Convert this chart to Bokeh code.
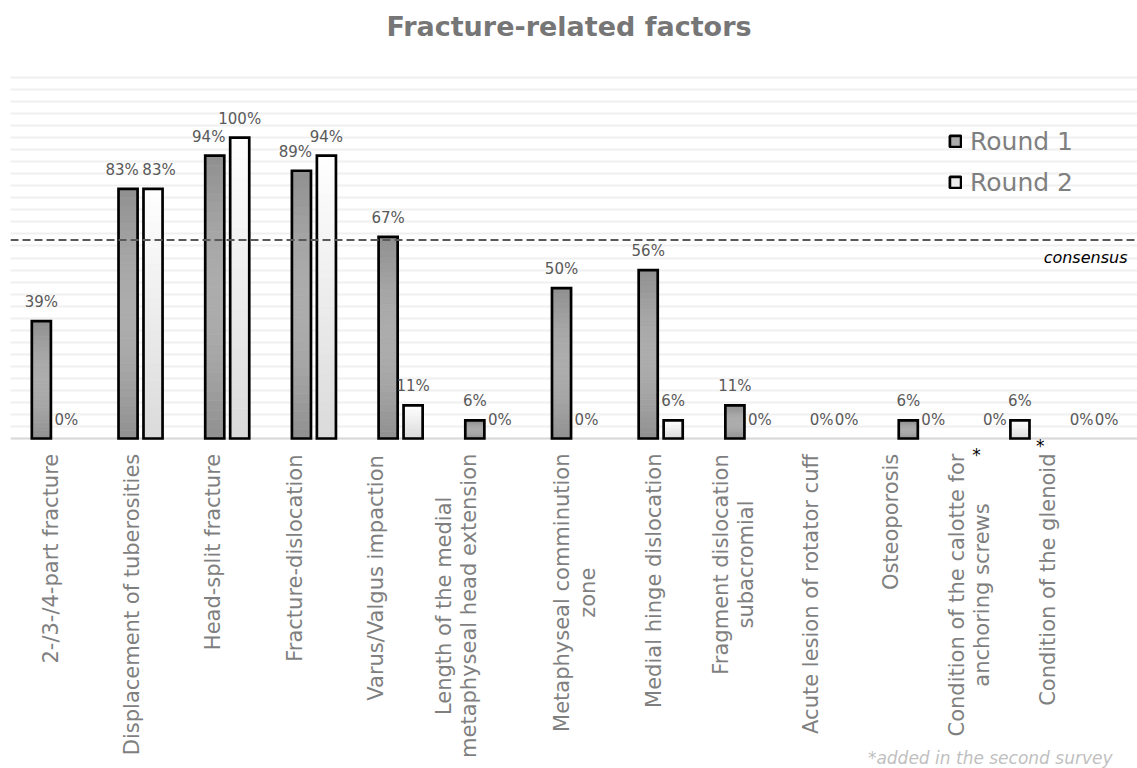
import math
import numpy as np
from bokeh.plotting import figure
from bokeh.models import (ColumnDataSource, FixedTicker, Span, Label, Legend,
                          LegendItem, Range1d, Grid)
from bokeh.core.properties import value
from bokeh.embed import file_html
from bokeh.resources import INLINE

# ---------------- data ----------------
categories = [
    "2-/3-/4-part fracture",
    "Displacement of tuberosities",
    "Head-split fracture",
    "Fracture-dislocation",
    "Varus/Valgus impaction",
    "Length of the medial\nmetaphyseal head extension",
    "Metaphyseal comminution\nzone",
    "Medial hinge dislocation",
    "Fragment dislocation\nsubacromial",
    "Acute lesion of rotator cuff",
    "Osteoporosis",
    "Condition of the calotte for\nanchoring screws",
    "Condition of the glenoid",
]
round1 = [39, 83, 94, 89, 67, 6, 50, 56, 11, 0, 6, 0, 0]
round2 = [0, 83, 100, 94, 11, 0, 0, 6, 0, 0, 0, 6, 0]
series_names = ["Round 1", "Round 2"]
consensus_level = 66
added_in_second_survey = [11, 12]
title_text = "Fracture-related factors"
footnote_text = "*added in the second survey"
consensus_text = "consensus"

# ---------------- layout / style ----------------
FONT = "DejaVu Sans"
W, H = 1137, 768
FRAME_LEFT = 10
FRAME_TOP_PX = 77          # where the 120 % gridline sits
BASE_PX = 438              # where 0 % sits
PX = (BASE_PX - FRAME_TOP_PX) / 120.0
Y_TOP = 120 + FRAME_TOP_PX / PX
Y_BOT = -(H - BASE_PX) / PX
DODGE = 0.144
BW = 0.22
N_SLICES = 30
TICK_FS = 21
LINE_GAP = 25.5
LABEL_TOP = 15
# per-category horizontal nudge of the category labels (px), as in the original
LABEL_NUDGE = [-3, -9, -14, -19, -25, -31, 1, -7, -14, -23, -30, -38, -46]
# asterisk placement relative to the nudged label (px)
STAR_POS = [(7, 16), (-8, 7)]

# DejaVu Sans advance widths (em) for label measurement
DV = {" ": .318, "-": .361, "/": .337, "2": .636, "3": .636, "4": .636,
      "A": .684, "C": .698, "D": .770, "F": .575, "H": .752, "L": .557,
      "M": .863, "O": .787, "V": .684,
      "a": .613, "b": .635, "c": .550, "d": .635, "e": .615, "f": .352,
      "g": .635, "h": .634, "i": .278, "k": .579, "l": .278, "m": .974,
      "n": .634, "o": .612, "p": .635, "r": .411, "s": .521, "t": .392,
      "u": .634, "v": .592, "w": .818, "x": .592, "y": .592, "z": .525}


def text_len(s, fs):
    return sum(DV.get(ch, 0.6) for ch in s) * fs


p = figure(width=W, height=H, x_range=Range1d(-0.5, len(categories) - 0.5),
           y_range=Range1d(Y_BOT, Y_TOP), output_backend="svg",
           toolbar_location=None, x_axis_location=None, y_axis_location=None,
           title_location=None, min_border_left=FRAME_LEFT, min_border_right=0,
           min_border_top=0, min_border_bottom=0)
p.outline_line_color = None
p.background_fill_color = "white"
p.border_fill_color = "white"
for g in p.grid:
    g.visible = False

p.add_layout(Grid(dimension=1, ticker=FixedTicker(ticks=list(range(0, 121, 4))),
                  grid_line_color="#f0f0f0", grid_line_width=2))
p.add_layout(Span(location=0, dimension="width", line_color="#d9d9d9",
                  line_width=2, level="underlay"))


def gray(level):
    level = int(round(max(0, min(255, level))))
    return "#%02x%02x%02x" % (level, level, level)


def r1_color(t):
    return gray(143 + 29 * math.sin(math.pi * t))


def r2_color(t):
    return gray(218 + 37 * t)


def slice_data(xs, vals, color_fn):
    d = dict(x=[], bottom=[], top=[], color=[])
    for xi, v in zip(xs, vals):
        if v <= 0:
            continue
        for k in range(N_SLICES):
            f0, f1 = k / N_SLICES, (k + 1) / N_SLICES
            d["x"].append(xi)
            d["bottom"].append(v * f0)
            d["top"].append(v * f1)
            d["color"].append(color_fn((f0 + f1) / 2))
    return d


x1 = [i - DODGE for i in range(len(categories))]
x2 = [i + DODGE for i in range(len(categories))]

# label nudges where the two value labels would collide
off1, off2 = [], []
for a, b in zip(round1, round2):
    if a > 0 and b > 0 and abs(a - b) <= 6:
        off1.append(-6)
        off2.append(6 if abs(a - b) <= 2 else 0)
    else:
        off1.append(0)
        off2.append(0)

for xs, vals, fn, offs in ((x1, round1, r1_color, off1),
                           (x2, round2, r2_color, off2)):
    src = ColumnDataSource(slice_data(xs, vals, fn))
    p.vbar(x="x", bottom="bottom", top="top", width=BW, source=src,
           fill_color="color", line_color="color", line_width=0.8)
    osrc = ColumnDataSource(dict(x=xs, top=vals,
                                 alpha=[1.0 if v > 0 else 0.0 for v in vals]))
    p.vbar(x="x", bottom=0, top="top", width=BW, source=osrc,
           fill_color=None, line_color="black", line_width=2.7,
           line_alpha="alpha", line_join="miter")
    lsrc = ColumnDataSource(dict(x=xs, y=vals, xo=offs,
                                 text=[f"{v}%" for v in vals]))
    p.text(x="x", y="y", text="text", source=lsrc, x_offset="xo",
           text_align="center", text_baseline="middle", y_offset=-19,
           text_font=value(FONT), text_font_size="15px", text_color="#595959")

# category labels (rotated, multi-line lines centred on each other)
lab = dict(x=[], text=[], xo=[], yo=[])
for i, cat in enumerate(categories):
    lines = cat.split("\n")
    L = max(text_len(s, TICK_FS) for s in lines)
    for j, line in enumerate(lines):
        lab["x"].append(i)
        lab["text"].append(line)
        lab["xo"].append(LABEL_NUDGE[i] + (j - (len(lines) - 1) / 2) * LINE_GAP)
        lab["yo"].append(LABEL_TOP + L / 2)
p.text(x="x", y=0, text="text", source=ColumnDataSource(lab), x_offset="xo",
       y_offset="yo", angle=math.pi / 2, text_align="center",
       text_baseline="middle", text_font=value(FONT),
       text_font_size=f"{TICK_FS}px", text_color="#7f7f7f")

# asterisks for items added in the second survey
star = dict(x=added_in_second_survey,
            xo=[LABEL_NUDGE[c] + s[0] for c, s in zip(added_in_second_survey, STAR_POS)],
            yo=[s[1] for s in STAR_POS], text=["*"] * len(added_in_second_survey))
p.text(x="x", y=0, text="text", source=ColumnDataSource(star), x_offset="xo",
       y_offset="yo", text_align="center", text_baseline="middle",
       text_font=value(FONT), text_font_size="17px", text_color="black")

# legend (proxy renderers without visible data)
nan_src1 = ColumnDataSource(dict(x=np.array([np.nan]), top=np.array([np.nan])))
nan_src2 = ColumnDataSource(dict(x=np.array([np.nan]), top=np.array([np.nan])))
leg_r1 = p.vbar(x="x", top="top", width=BW, source=nan_src1,
                fill_color=r1_color(0.5), line_color="black", line_width=2.7)
leg_r2 = p.vbar(x="x", top="top", width=BW, source=nan_src2,
                fill_color=r2_color(0.5), line_color="black", line_width=2.7)
legend = Legend(items=[LegendItem(label=series_names[0], renderers=[leg_r1]),
                       LegendItem(label=series_names[1], renderers=[leg_r2])],
                location=(938, H - 202.5), orientation="vertical",
                background_fill_alpha=0, border_line_color=None,
                padding=0, margin=0, spacing=0, glyph_width=14,
                glyph_height=14, label_height=41, label_standoff=8,
                label_text_font=FONT, label_text_font_size="25px",
                label_text_color="#7f7f7f")
p.add_layout(legend)

# consensus line
p.add_layout(Span(location=consensus_level, dimension="width",
                  line_color="#595959", line_dash="8 4", line_width=2))
p.add_layout(Label(x=len(categories) - 0.5, y=consensus_level, x_offset=-10,
                   y_offset=-18, text=consensus_text, text_align="right",
                   text_baseline="middle", text_font=FONT,
                   text_font_size="16px", text_font_style="italic",
                   text_color="black"))

# title
p.text(x=[(len(categories) - 1) / 2], y=[Y_TOP], text=[title_text],
       x_offset=-5, y_offset=26, text_align="center", text_baseline="middle",
       text_font=value(FONT), text_font_size="27px", text_font_style="bold",
       text_color="#767676")

# footnote
p.text(x=[len(categories) - 0.5], y=[0], text=[footnote_text], x_offset=-25,
       y_offset=319, text_align="right", text_baseline="middle",
       text_font=value(FONT), text_font_size="17px", text_font_style="italic",
       text_color="#bfbfbf")

open("out.html", "w").write(file_html(p, INLINE))
